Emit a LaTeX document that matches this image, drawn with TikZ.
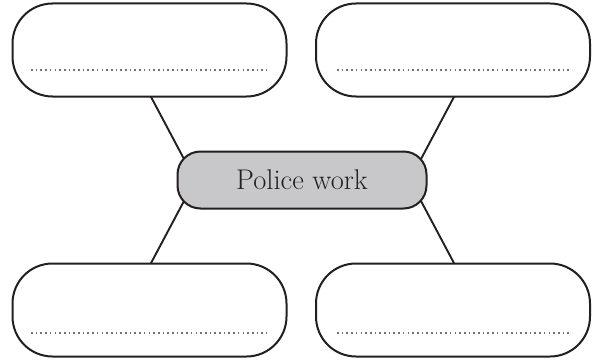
\documentclass[tikz,border=0pt]{standalone}
\usetikzlibrary{backgrounds}
\definecolor{boxgray}{RGB}{200,200,203}
\definecolor{dotgray}{RGB}{115,115,115}
\definecolor{ink}{RGB}{35,31,32}
\tikzset{
  answerbox/.style={draw=ink, line width=2pt, rounded corners=40pt, fill=white,
    minimum width=274pt, minimum height=93pt, inner sep=0pt},
  centerbox/.style={draw=ink, line width=2pt, rounded corners=23pt, fill=boxgray,
    minimum width=249pt, minimum height=57pt, inner sep=0pt, text=ink,
    font=\fontsize{28.5}{32}\selectfont},
  writeline/.style={draw=dotgray, line width=1.8pt, dash pattern=on 1.6pt off 3.1pt},
  connector/.style={draw=ink, line width=1.9pt}
}
\begin{document}
\begin{tikzpicture}[x=1pt,y=-1pt]
\useasboundingbox (0,0) rectangle (597,361);
\node[answerbox] (tl) at (149.5,50) {};
\node[answerbox] (tr) at (453,50) {};
\node[answerbox] (bl) at (149.5,310) {};
\node[answerbox] (br) at (453,310) {};
\node[centerbox] (c) at (302,180) {Police work};
% writing lines
\coordinate (tlA) at (31,70); \coordinate (tlB) at (267,70);
\coordinate (trA) at (337,70); \coordinate (trB) at (572,70);
\coordinate (blA) at (31,333); \coordinate (blB) at (267,333);
\coordinate (brA) at (337,333); \coordinate (brB) at (572,333);
\draw[writeline] (tlA) -- (tlB);
\draw[writeline] (trA) -- (trB);
\draw[writeline] (blA) -- (blB);
\draw[writeline] (brA) -- (brB);
% connector end points
\coordinate (tlE) at (150,95);  \coordinate (cTL) at (184,159);
\coordinate (trE) at (455,95);  \coordinate (cTR) at (421,159);
\coordinate (blE) at (150,265); \coordinate (cBL) at (184,201);
\coordinate (brE) at (455,265); \coordinate (cBR) at (421,201);
\begin{scope}[on background layer]
\draw[connector] (tlE) -- (cTL);
\draw[connector] (trE) -- (cTR);
\draw[connector] (blE) -- (cBL);
\draw[connector] (brE) -- (cBR);
\end{scope}
\end{tikzpicture}
\end{document}
